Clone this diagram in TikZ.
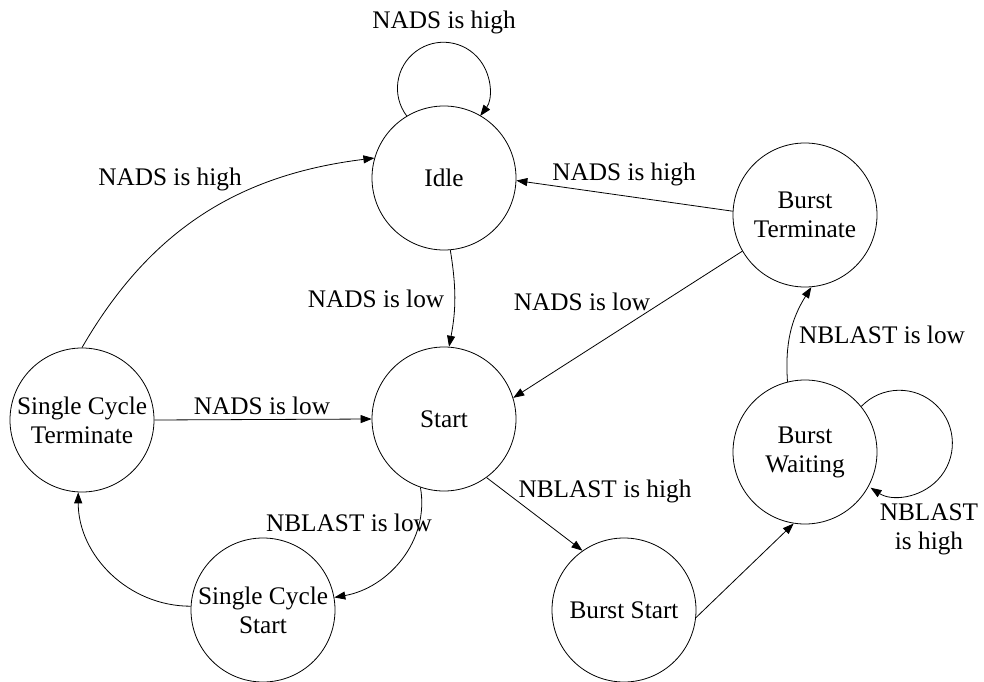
\documentclass[tikz,border=0pt]{standalone}
\usepackage{fontspec}
\setmainfont{Liberation Serif}
\usetikzlibrary{arrows.meta}
\begin{document}
\begin{tikzpicture}[x=1bp,y=-1bp,
  font=\fontsize{25.3bp}{29bp}\selectfont,
  state/.style={draw, circle, minimum size=144bp, inner sep=0pt, align=center, line width=0.8bp},
  lbl/.style={inner sep=0pt, anchor=base},
  tr/.style={-{Triangle[length=11bp,width=8bp]}, line width=0.8bp}]
\useasboundingbox (0,0) rectangle (984,682);
% states
\node[state] (idle)  at (444,178) {Idle};
\node[state] (bt)    at (805,215) {Burst\\Terminate};
\node[state] (start) at (444,419) {Start};
\node[state] (sct)   at (82,420)  {Single Cycle\\Terminate};
\node[state] (scs)   at (263,610) {Single Cycle\\Start};
\node[state] (bs)    at (624,610) {Burst Start};
\node[state] (bw)    at (805,452) {Burst\\Waiting};
% transitions
\draw[tr] (idle.121) arc[start angle=217, end angle=-37, radius=46bp];
\node[lbl] (l1) at (444,29) {NADS is high};

\draw[tr] (sct.90) to[out=60, in=187] (idle.164);
\node[lbl] (l2) at (170,186) {NADS is high};

\draw[tr] (bt.177) -- (idle.-2);
\node[lbl] (l3) at (624,181) {NADS is high};

\draw[tr] (idle.275) to[bend left=10] (start.86);
\node[lbl] (l4) at (376,307) {NADS is low};

\draw[tr] (bt.210) -- (start.17);
\node[lbl] (l5) at (582,310) {NADS is low};

\draw[tr] (sct.east) -- (start.west);
\node[lbl] (l6) at (262,414) {NADS is low};

\draw[tr] (start.251) to[out=-80, in=10] (scs.10);
\node[lbl] (l7) at (349,531) {NBLAST is low};

\draw[tr] (scs.177) to[out=180, in=270] (sct.267);

\draw[tr] (start.-54) -- (bs.125);
\node[lbl] (l8) at (605,497) {NBLAST is high};

\draw[tr] (bs.-6.5) -- (bw.261);

\draw[tr] (bw.104) to[bend left=18] (bt.275);
\node[lbl] (l9) at (882,343) {NBLAST is low};

\draw[tr] (bw.39) arc[start angle=136, end angle=-123, radius=53bp];
\node[inner sep=0pt, align=center] (l10) at (929,529) {NBLAST\\is high};
\end{tikzpicture}
\end{document}
